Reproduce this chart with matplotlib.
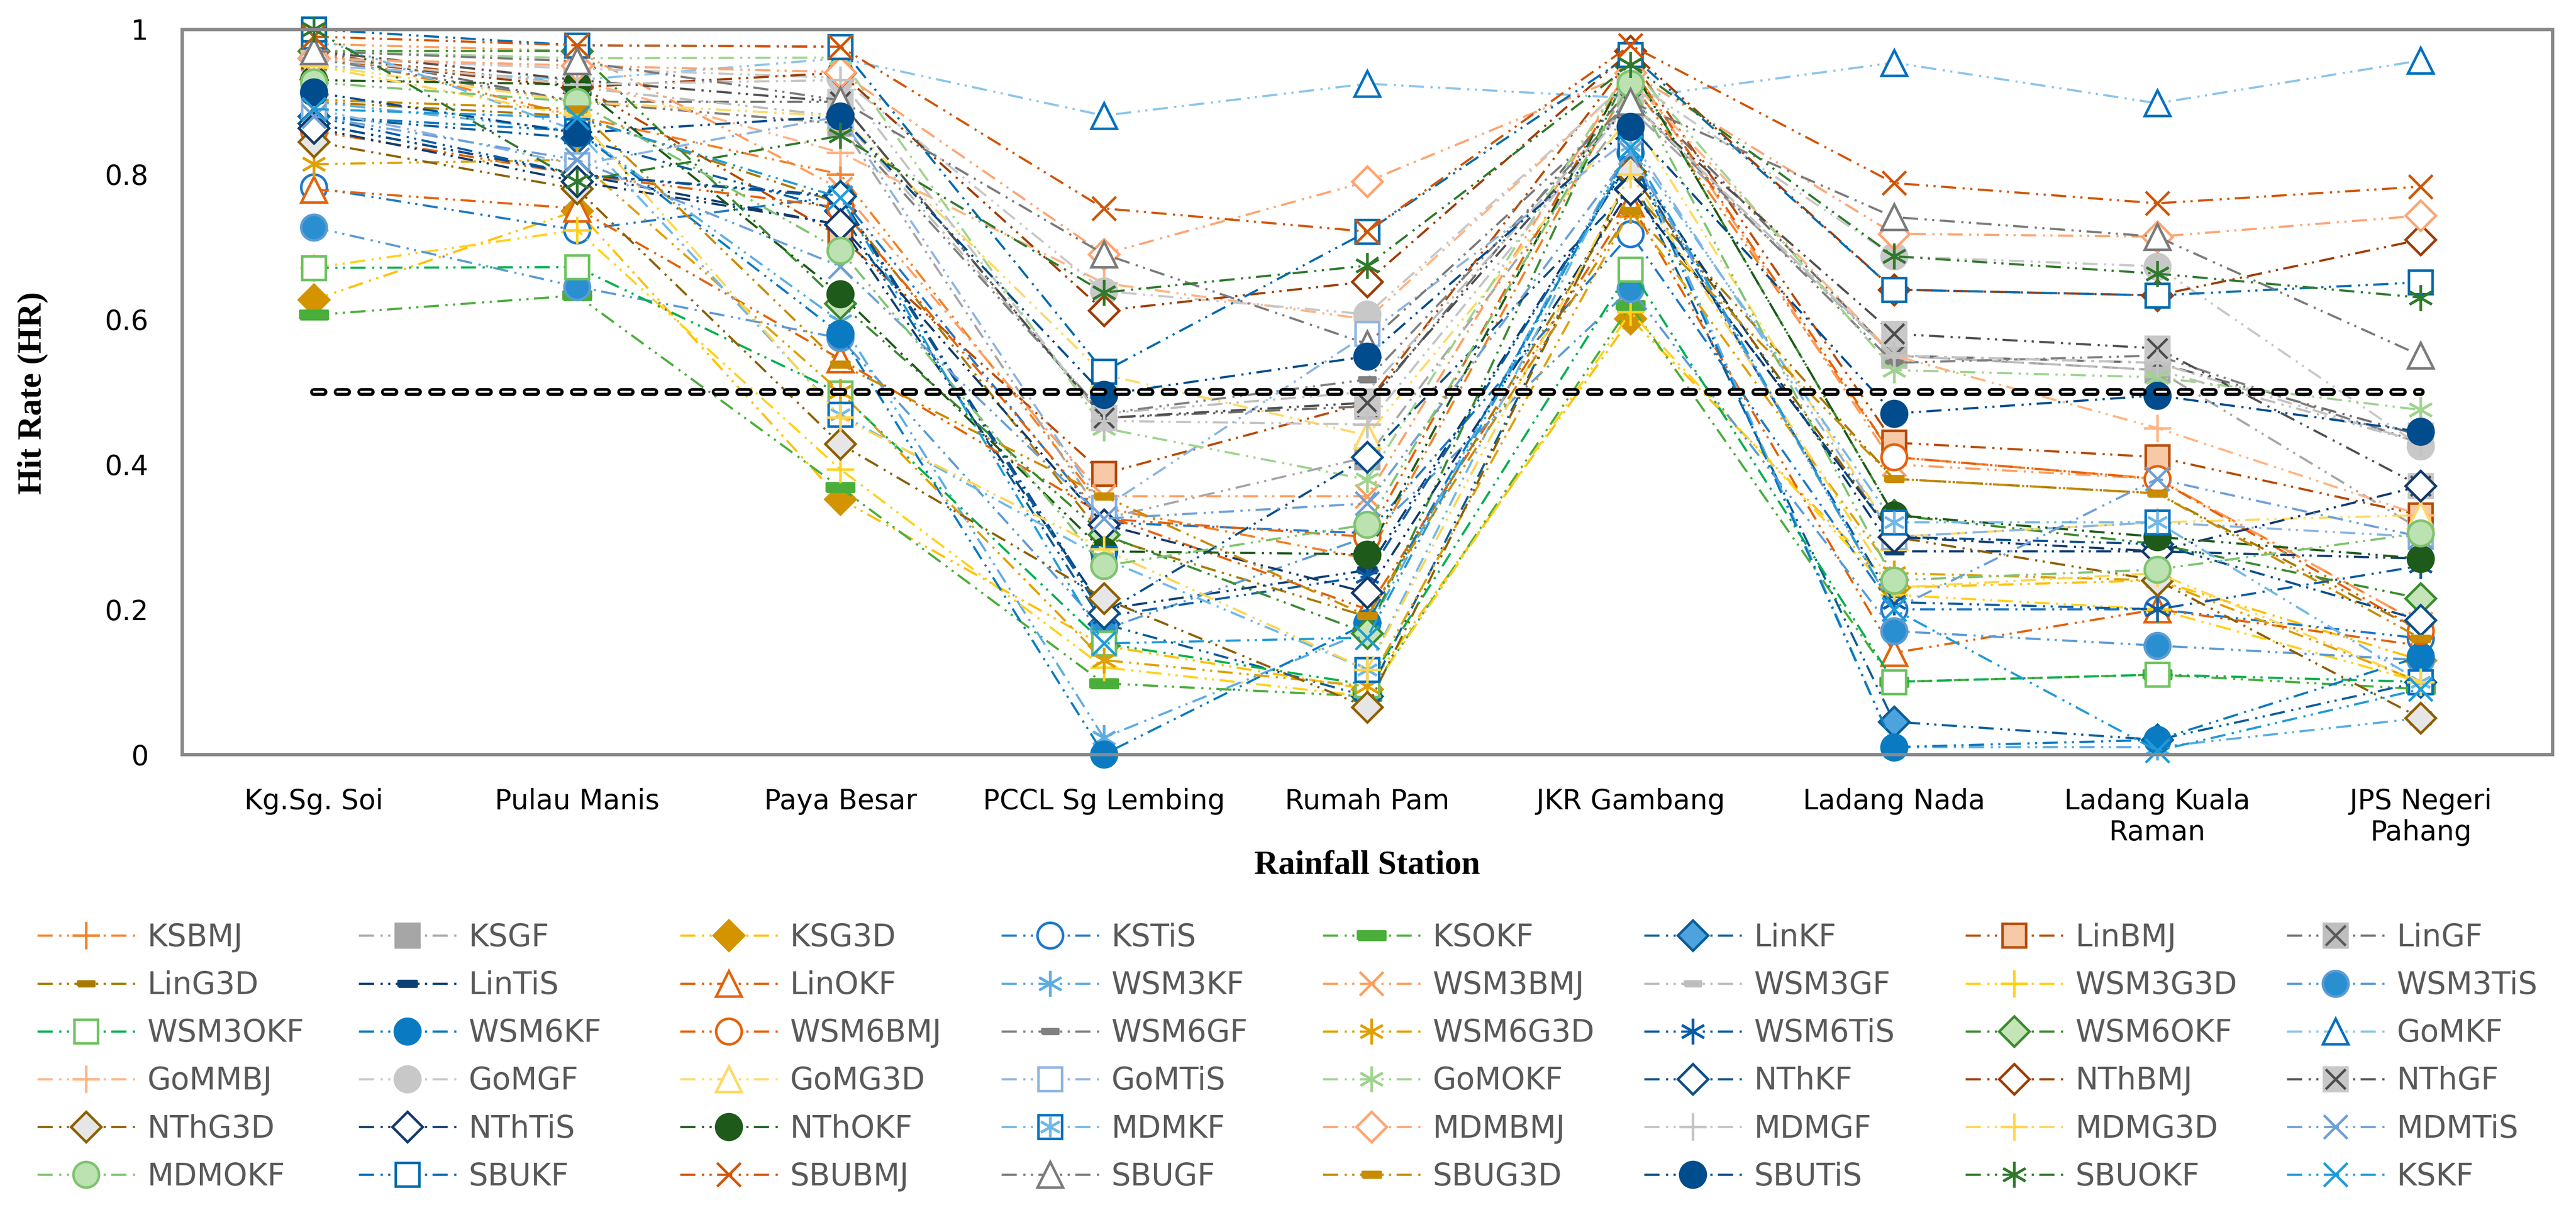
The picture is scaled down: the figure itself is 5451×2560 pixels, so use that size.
import matplotlib
matplotlib.use("Agg")
import matplotlib.pyplot as plt
from matplotlib.legend_handler import HandlerTuple

stations = ["Kg.Sg. Soi", "Pulau Manis", "Paya Besar", "PCCL Sg Lembing", "Rumah Pam",
            "JKR Gambang", "Ladang Nada", "Ladang Kuala\nRaman", "JPS Negeri\nPahang"]
yticks = [0, 0.2, 0.4, 0.6, 0.8, 1]
ytick_labels = ["0", "0.2", "0.4", "0.6", "0.8", "1"]
threshold = [0.5, 0.5, 0.5, 0.5, 0.5, 0.5, 0.5, 0.5, 0.5]

# hit rate per station, one list per scheme
KSBMJ = [0.97, 0.88, 0.80, 0.34, 0.27, 0.93, 0.41, 0.38, 0.18]
KSGF = [0.96, 0.90, 0.87, 0.325, 0.41, 0.89, 0.55, 0.53, 0.31]
KSG3D = [0.627, 0.75, 0.352, 0.15, 0.09, 0.601, 0.23, 0.24, 0.13]
KSTiS = [0.782, 0.723, 0.77, 0.32, 0.305, 0.718, 0.20, 0.20, 0.16]
KSOKF = [0.606, 0.633, 0.368, 0.098, 0.08, 0.619, 0.10, 0.11, 0.09]
LinKF = [0.88, 0.85, 0.75, 0.18, 0.08, 0.80, 0.045, 0.02, 0.10]
LinBMJ = [0.963, 0.924, 0.714, 0.387, 0.485, 0.96, 0.43, 0.41, 0.33]
LinGF = [0.971, 0.90, 0.90, 0.464, 0.48, 0.92, 0.55, 0.54, 0.44]
LinG3D = [0.90, 0.88, 0.76, 0.30, 0.19, 0.78, 0.38, 0.36, 0.17]
LinTiS = [0.87, 0.80, 0.73, 0.20, 0.254, 0.82, 0.28, 0.28, 0.27]
LinOKF = [0.779, 0.753, 0.545, 0.33, 0.20, 0.76, 0.14, 0.20, 0.15]
WSM3KF = [0.90, 0.86, 0.597, 0.023, 0.17, 0.84, 0.01, 0.01, 0.05]
WSM3BMJ = [0.98, 0.97, 0.78, 0.356, 0.356, 0.95, 0.40, 0.38, 0.18]
WSM3GF = [0.96, 0.92, 0.88, 0.47, 0.50, 0.90, 0.55, 0.53, 0.43]
WSM3G3D = [0.671, 0.723, 0.393, 0.12, 0.08, 0.61, 0.22, 0.20, 0.10]
WSM3TiS = [0.727, 0.645, 0.574, 0.172, 0.30, 0.642, 0.17, 0.15, 0.13]
WSM3OKF = [0.671, 0.672, 0.498, 0.153, 0.096, 0.669, 0.10, 0.11, 0.10]
WSM6KF = [0.88, 0.86, 0.58, 0.0, 0.181, 0.83, 0.01, 0.02, 0.135]
WSM6BMJ = [0.86, 0.80, 0.754, 0.325, 0.30, 0.95, 0.41, 0.38, 0.17]
WSM6GF = [0.96, 0.90, 0.87, 0.47, 0.517, 0.90, 0.54, 0.55, 0.43]
WSM6G3D = [0.814, 0.82, 0.50, 0.13, 0.094, 0.75, 0.25, 0.24, 0.10]
WSM6TiS = [0.88, 0.80, 0.768, 0.19, 0.246, 0.82, 0.21, 0.20, 0.26]
WSM6OKF = [0.97, 0.97, 0.622, 0.303, 0.167, 0.95, 0.33, 0.29, 0.215]
GoMKF = [0.95, 0.93, 0.96, 0.881, 0.925, 0.905, 0.954, 0.898, 0.957]
GoMMBJ = [0.97, 0.93, 0.83, 0.65, 0.60, 0.93, 0.55, 0.45, 0.33]
GoMGF = [0.96, 0.946, 0.933, 0.639, 0.607, 0.93, 0.687, 0.673, 0.425]
GoMG3D = [0.951, 0.90, 0.88, 0.524, 0.44, 0.88, 0.30, 0.32, 0.33]
GoMTiS = [0.89, 0.813, 0.88, 0.34, 0.58, 0.85, 0.30, 0.32, 0.30]
GoMOKF = [0.97, 0.96, 0.961, 0.45, 0.379, 0.95, 0.53, 0.52, 0.475]
NThKF = [0.87, 0.80, 0.77, 0.195, 0.41, 0.78, 0.30, 0.29, 0.185]
NThBMJ = [0.96, 0.92, 0.94, 0.612, 0.652, 0.97, 0.641, 0.633, 0.71]
NThGF = [0.97, 0.93, 0.90, 0.464, 0.485, 0.898, 0.58, 0.56, 0.37]
NThG3D = [0.845, 0.78, 0.428, 0.215, 0.065, 0.804, 0.30, 0.24, 0.05]
NThTiS = [0.864, 0.79, 0.731, 0.317, 0.223, 0.779, 0.30, 0.28, 0.37]
NThOKF = [0.93, 0.924, 0.635, 0.28, 0.276, 0.95, 0.33, 0.30, 0.27]
MDMKF = [0.99, 0.86, 0.469, 0.27, 0.117, 0.84, 0.32, 0.32, 0.10]
MDMBMJ = [0.96, 0.95, 0.941, 0.69, 0.79, 0.94, 0.718, 0.714, 0.743]
MDMGF = [0.96, 0.924, 0.93, 0.46, 0.455, 0.90, 0.55, 0.54, 0.43]
MDMG3D = [0.95, 0.88, 0.465, 0.283, 0.117, 0.80, 0.23, 0.25, 0.10]
MDMTiS = [0.88, 0.82, 0.673, 0.325, 0.346, 0.83, 0.20, 0.38, 0.30]
MDMOKF = [0.927, 0.90, 0.695, 0.26, 0.317, 0.925, 0.24, 0.255, 0.305]
SBUKF = [1.0, 0.978, 0.976, 0.528, 0.721, 0.965, 0.641, 0.633, 0.651]
SBUBMJ = [0.99, 0.978, 0.976, 0.753, 0.721, 0.978, 0.788, 0.76, 0.783]
SBUGF = [0.97, 0.956, 0.902, 0.69, 0.566, 0.90, 0.741, 0.714, 0.55]
SBUG3D = [0.903, 0.89, 0.538, 0.356, 0.191, 0.75, 0.38, 0.36, 0.16]
SBUTiS = [0.913, 0.857, 0.88, 0.496, 0.549, 0.866, 0.47, 0.495, 0.445]
SBUOKF = [1.0, 0.79, 0.853, 0.637, 0.674, 0.951, 0.687, 0.663, 0.63]
KSKF = [0.89, 0.878, 0.768, 0.153, 0.161, 0.837, 0.20, 0.005, 0.09]

series = [
    ("KSBMJ", KSBMJ), ("KSGF", KSGF), ("KSG3D", KSG3D), ("KSTiS", KSTiS),
    ("KSOKF", KSOKF), ("LinKF", LinKF), ("LinBMJ", LinBMJ), ("LinGF", LinGF),
    ("LinG3D", LinG3D), ("LinTiS", LinTiS), ("LinOKF", LinOKF), ("WSM3KF", WSM3KF),
    ("WSM3BMJ", WSM3BMJ), ("WSM3GF", WSM3GF), ("WSM3G3D", WSM3G3D), ("WSM3TiS", WSM3TiS),
    ("WSM3OKF", WSM3OKF), ("WSM6KF", WSM6KF), ("WSM6BMJ", WSM6BMJ), ("WSM6GF", WSM6GF),
    ("WSM6G3D", WSM6G3D), ("WSM6TiS", WSM6TiS), ("WSM6OKF", WSM6OKF), ("GoMKF", GoMKF),
    ("GoMMBJ", GoMMBJ), ("GoMGF", GoMGF), ("GoMG3D", GoMG3D), ("GoMTiS", GoMTiS),
    ("GoMOKF", GoMOKF), ("NThKF", NThKF), ("NThBMJ", NThBMJ), ("NThGF", NThGF),
    ("NThG3D", NThG3D), ("NThTiS", NThTiS), ("NThOKF", NThOKF), ("MDMKF", MDMKF),
    ("MDMBMJ", MDMBMJ), ("MDMGF", MDMGF), ("MDMG3D", MDMG3D), ("MDMTiS", MDMTiS),
    ("MDMOKF", MDMOKF), ("SBUKF", SBUKF), ("SBUBMJ", SBUBMJ), ("SBUGF", SBUGF),
    ("SBUG3D", SBUG3D), ("SBUTiS", SBUTiS), ("SBUOKF", SBUOKF), ("KSKF", KSKF),
]

DASH = [(-1, -0.32), (1, -0.32), (1, 0.32), (-1, 0.32), (-1, -0.32)]
STAR = (6, 2, 0)
W = "white"

# line colour, marker, size, face, edge
style = {
    "KSBMJ": ("#F58025", "+", 14, None, None),
    "KSGF": ("#A6A6A6", "s", 12, None, None),
    "KSG3D": ("#FFC000", "D", 11, "#D39400", "#D39400"),
    "KSTiS": ("#1F78C8", "o", 13, W, None),
    "KSOKF": ("#4AAE3A", DASH, 14, None, None),
    "LinKF": ("#0B5E99", "D", 11, "#4CA3DD", "#0B5E99"),
    "LinBMJ": ("#B84A00", "s", 12, "#F7C9A6", "#B84A00"),
    "LinGF": ("#6E6E6E", "s", 12, "#BEBEBE", "#BEBEBE"),
    "LinG3D": ("#A97A00", DASH, 8, None, None),
    "LinTiS": ("#0D3F73", DASH, 9, None, None),
    "LinOKF": ("#E46209", "^", 13, W, None),
    "WSM3KF": ("#5DADE2", STAR, 13, None, None),
    "WSM3BMJ": ("#FF9E5E", "x", 12, None, None),
    "WSM3GF": ("#BDBDBD", DASH, 8, None, None),
    "WSM3G3D": ("#FFD11A", "+", 14, None, None),
    "WSM3TiS": ("#5B9BD5", "o", 13, "#2A8FD0", "#5B9BD5"),
    "WSM3OKF": ("#00B04F", "s", 12, W, "#6CC35E"),
    "WSM6KF": ("#0A7BC2", "o", 13, None, None),
    "WSM6BMJ": ("#E8600A", "o", 13, W, None),
    "WSM6GF": ("#808080", DASH, 8, None, None),
    "WSM6G3D": ("#E0A000", STAR, 13, None, None),
    "WSM6TiS": ("#0B5CA6", STAR, 13, None, None),
    "WSM6OKF": ("#3B8C2F", "D", 11, "#C5E5B9", "#3B8C2F"),
    "GoMKF": ("#8CC4EA", "^", 13, W, "#0070C0"),
    "GoMMBJ": ("#FFB482", "+", 14, None, None),
    "GoMGF": ("#C8C8C8", "o", 13, None, None),
    "GoMG3D": ("#FFD966", "^", 13, W, None),
    "GoMTiS": ("#8DB4E2", "s", 12, W, None),
    "GoMOKF": ("#9ED48E", STAR, 13, None, None),
    "NThKF": ("#0B4F8A", "D", 11, W, None),
    "NThBMJ": ("#A03C00", "D", 11, W, None),
    "NThGF": ("#505050", "s", 12, "#C8C8C8", "#C8C8C8"),
    "NThG3D": ("#8D6000", "D", 11, "#E6E6E6", "#8D6000"),
    "NThTiS": ("#143A6B", "D", 11, W, None),
    "NThOKF": ("#1E5A1A", "o", 13, None, None),
    "MDMKF": ("#71B8E6", "s", 12, W, "#0070C0"),
    "MDMBMJ": ("#FFA472", "D", 11, W, None),
    "MDMGF": ("#C3C3C3", "+", 14, None, None),
    "MDMG3D": ("#FFD54F", "+", 14, None, None),
    "MDMTiS": ("#6E9FD8", "x", 12, None, None),
    "MDMOKF": ("#7EC46F", "o", 13, "#BCE2B1", "#7EC46F"),
    "SBUKF": ("#006BB0", "s", 12, W, None),
    "SBUBMJ": ("#D35400", "x", 12, None, None),
    "SBUGF": ("#7B7B7B", "^", 13, W, None),
    "SBUG3D": ("#C98B00", DASH, 9, None, None),
    "SBUTiS": ("#004C8C", "o", 13, None, None),
    "SBUOKF": ("#2E7A2C", STAR, 13, None, None),
    "KSKF": ("#1F9BD8", "x", 12, None, None),
}
# second marker drawn on top (square with a cross / star inside)
overlay = {
    "LinGF": ("x", 10, "#5A5A5A"),
    "NThGF": ("x", 10, "#4D4D4D"),
    "MDMKF": (STAR, 11, "#71B8E6"),
}

LS = (0, (7, 3, 1, 2.5, 1, 2.5))

fig = plt.figure(figsize=(5451 / 300, 2560 / 300), dpi=300)
ax = fig.add_axes([385 / 5451, 1 - 1596 / 2560, (5401 - 385) / 5451, (1596 - 62) / 2560])

x = list(range(len(stations)))
handles = []
for name, vals in series:
    lc, mk, ms, mfc, mec = style[name]
    h, = ax.plot(x, vals, color=lc, ls=LS, lw=1.1, marker=mk, ms=ms,
                 mfc=mfc if mfc else lc, mec=mec if mec else lc, mew=1.3,
                 clip_on=False, label=name)
    if name in overlay:
        om, oms, oc = overlay[name]
        h2, = ax.plot(x, vals, ls="none", marker=om, ms=oms, mec=oc, mfc=oc,
                      mew=1.3, clip_on=False)
        h = (h, h2)
    handles.append(h)

# 0.5 reference line, drawn over the series
ax.plot(x, threshold, color="black", lw=4, ls=(0, (1.2, 1.8)),
        dash_capstyle="round", zorder=5)
ax.plot(x, threshold, color="white", lw=1, ls=(0, (4.8, 7.2)),
        dash_capstyle="round", zorder=5)

ax.set_xlim(-0.5, len(stations) - 0.5)
ax.set_ylim(0, 1)
ax.set_xticks(x)
ax.set_xticklabels(stations, fontsize=14, va="top")
ax.set_yticks(yticks)
ax.set_yticklabels(ytick_labels, fontsize=14)
ax.tick_params(axis="both", length=0, colors="black")
ax.tick_params(axis="x", pad=17)
ax.tick_params(axis="y", pad=17)
for sp in ax.spines.values():
    sp.set_color("#888888")
    sp.set_linewidth(1.7)

fig.text(69 / 5451, 1 - 832 / 2560, "Hit Rate (HR)", rotation=90, ha="center", va="center",
         fontsize=17, fontweight="bold", family="Liberation Serif")
fig.text(2893 / 5451, 1 - 1832 / 2560, "Rainfall Station", ha="center", va="center",
         fontsize=17, fontweight="bold", family="Liberation Serif")

# excel-like legend: 8 fixed-width columns, filled row by row
names = [n for n, _ in series]
for j in range(8):
    idx = [i * 8 + j for i in range(6)]
    fig.legend([handles[k] for k in idx], [names[k] for k in idx],
               loc="upper left", bbox_to_anchor=((79 + 680 * j) / 5451, 1 - 1952 / 2560),
               ncol=1, frameon=False, fontsize=15.5, handlelength=3.2, handletextpad=0.4,
               labelspacing=0.575, borderpad=0, borderaxespad=0, labelcolor="#595959",
               numpoints=1, handler_map={tuple: HandlerTuple(ndivide=1)})

fig.savefig("out.png", dpi=300)
